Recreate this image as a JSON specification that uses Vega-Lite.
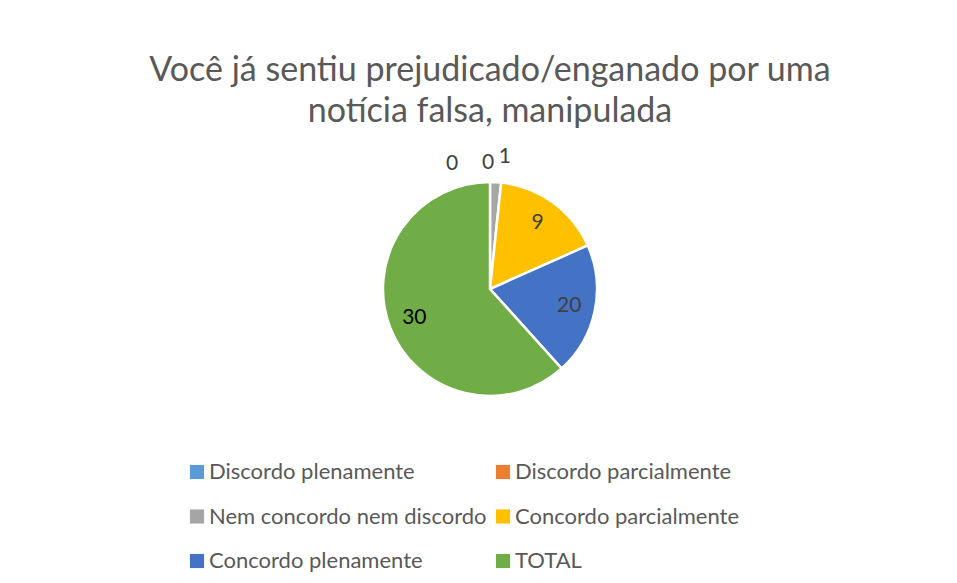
{
  "$schema": "https://vega.github.io/schema/vega-lite/v6.json",
  "width": 214,
  "height": 214,
  "autosize": {"type": "none"},
  "padding": {"left": 383, "top": 182, "right": 360, "bottom": 187},
  "background": "white",
  "title": {
    "text": ["Você já sentiu prejudicado/enganado por uma", "notícia falsa, manipulada"],
    "font": "Lato",
    "fontSize": 34,
    "fontWeight": "normal",
    "color": "#595959",
    "anchor": "middle",
    "offset": 17,
    "lineHeight": 41
  },
  "config": {"view": {"stroke": null}},
  "data": {
    "values": [
      {"categoria": "Discordo plenamente", "valor": 0, "fatia": 0, "ordem": 1},
      {"categoria": "Discordo parcialmente", "valor": 0, "fatia": 0, "ordem": 2},
      {"categoria": "Nem concordo nem discordo", "valor": 1, "fatia": 1, "ordem": 3},
      {"categoria": "Concordo parcialmente", "valor": 9, "fatia": 10, "ordem": 4},
      {"categoria": "Concordo plenamente", "valor": 20, "fatia": 12, "ordem": 5},
      {"categoria": "TOTAL", "valor": 30, "fatia": 37, "ordem": 6}
    ]
  },
  "encoding": {
    "theta": {"field": "fatia", "type": "quantitative", "stack": true},
    "order": {"field": "ordem", "type": "quantitative"},
    "detail": {"field": "categoria", "type": "nominal"}
  },
  "layer": [
    {
      "mark": {"type": "arc", "stroke": "white", "strokeWidth": 2.5},
      "encoding": {
        "color": {
          "field": "categoria",
          "type": "nominal",
          "scale": {
            "domain": ["Discordo plenamente", "Nem concordo nem discordo", "Concordo plenamente", "Discordo parcialmente", "Concordo parcialmente", "TOTAL"],
            "range": ["#5B9BD5", "#A5A5A5", "#4472C4", "#ED7D31", "#FFC000", "#70AD47"]
          },
          "legend": {
            "title": null,
            "orient": "none",
            "legendX": -197,
            "legendY": 279,
            "columns": 2,
            "symbolType": "square",
            "symbolSize": 200,
            "symbolStrokeWidth": 0,
            "labelFont": "Lato",
            "labelFontSize": 22,
            "labelColor": "#595959",
            "labelOffset": 1,
            "rowPadding": 22.5,
            "columnPadding": 5,
            "padding": 0,
            "labelLimit": 400
          }
        }
      }
    },
    {
      "mark": {"type": "text", "radius": 81, "font": "Lato", "fontSize": 21},
      "encoding": {
        "text": {"field": "valor", "type": "quantitative"},
        "opacity": {"condition": {"test": "datum.valor >= 5", "value": 1}, "value": 0},
        "color": {"condition": {"test": "datum.valor == 30", "value": "#000000"}, "value": "#404040"}
      }
    },
    {
      "mark": {"type": "text", "radius": 126, "font": "Lato", "fontSize": 21, "color": "#404040", "dx": -2},
      "encoding": {
        "text": {"field": "valor", "type": "quantitative"},
        "opacity": {"condition": {"test": "datum.categoria == 'Discordo parcialmente'", "value": 1}, "value": 0}
      }
    },
    {
      "mark": {"type": "text", "radius": 129, "font": "Lato", "fontSize": 21, "color": "#404040", "dx": 8, "dy": -3},
      "encoding": {
        "text": {"field": "valor", "type": "quantitative"},
        "opacity": {"condition": {"test": "datum.categoria == 'Nem concordo nem discordo'", "value": 1}, "value": 0}
      }
    },
    {
      "mark": {"type": "text", "radius": 125, "font": "Lato", "fontSize": 21, "color": "#404040", "dx": -38},
      "encoding": {
        "text": {"field": "valor", "type": "quantitative"},
        "opacity": {"condition": {"test": "datum.categoria == 'Discordo plenamente'", "value": 1}, "value": 0}
      }
    }
  ]
}
